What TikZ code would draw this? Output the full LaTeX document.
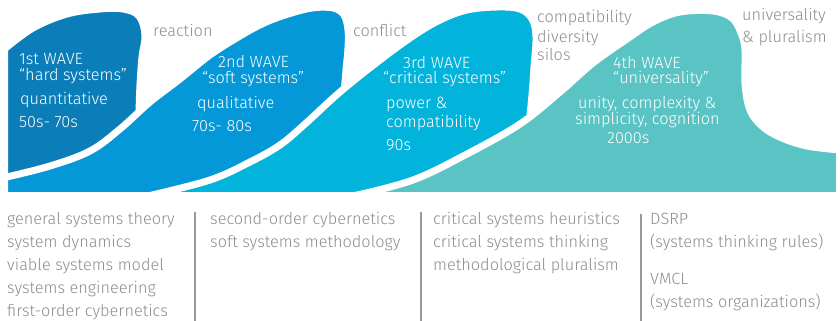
\documentclass[tikz,border=0pt]{standalone}
\usepackage{fontspec}
\IfFontExistsTF{Fira Sans Light}{\setmainfont{Fira Sans Light}}{\setmainfont{Fira Sans}}
\definecolor{waveA}{HTML}{0B7DB8}
\definecolor{waveB}{HTML}{0498D8}
\definecolor{waveC}{HTML}{02B4DB}
\definecolor{waveD}{HTML}{5AC4C4}
\definecolor{notegray}{HTML}{8C8C8C}
\definecolor{bargray}{HTML}{9A9A9A}
\begin{document}
\begin{tikzpicture}[x=1pt, y=-1pt]
        \tikzstyle{wave} = [draw=white, line width=7pt, line join=round]
        \tikzstyle{lbl} = [inner sep=0pt, anchor=base west, text=white, font=\fontsize{16.3}{19}\selectfont]
        \tikzstyle{note} = [lbl, text=notegray]
        \tikzstyle{bar} = [draw=bargray, line width=2.5pt]

        \useasboundingbox (0, 0) rectangle (840, 321);

        \filldraw[wave, fill=waveA] (4.5, 195.5) -- plot[smooth, tension=0.6] coordinates {(4.5, 49) (33, 28) (67, 14) (100, 9) (123, 9) (139, 16) (145, 35) (142, 57) (140, 85) (139, 112)} -- (139, 195.5) -- cycle;
        \filldraw[wave, fill=waveB] (4.5, 195.5) -- plot[smooth, tension=0.6] coordinates {(4.5, 177.5) (50, 166) (90, 151) (120, 129) (150, 102) (180, 79) (210, 55) (240, 36) (262, 24) (285, 15) (312, 8) (333, 8) (344, 15) (348, 30) (348, 48) (346, 70) (344, 95) (343, 120)} -- (343, 195.5) -- cycle;
        \filldraw[wave, fill=waveC] (150, 195.5) -- plot[smooth, tension=0.6] coordinates {(150, 195.5) (210, 180) (250, 162) (280, 145) (305, 124) (340, 92) (380, 60) (413, 36) (440, 20) (467, 10) (497, 7) (520, 9) (532, 19) (536, 37) (534, 67) (532, 95) (529, 125)} -- (529, 195.5) -- cycle;
        \filldraw[wave, fill=waveD] (355, 195.5) -- plot[smooth, tension=0.6] coordinates {(355, 195.5) (413, 180) (467, 154) (520, 124) (560, 92) (593, 63) (627, 39) (653, 22) (680, 12) (713, 11) (732, 18) (741, 33) (745, 50) (745, 83) (750, 110) (763, 127) (782, 138) (807, 146) (839.5, 150)} -- (839.5, 195.5) -- cycle;

        \node[lbl] (first title) at (19, 65) {1st WAVE};
        \node[lbl] (first name) at (19, 80) {“hard systems”};
        \node[lbl] (first kind) at (20, 104) {quantitative};
        \node[lbl] (first time) at (19, 127) {50s- 70s};

        \node[lbl] (second title) at (218, 67) {2nd WAVE};
        \node[lbl] (second name) at (202, 83) {“soft systems”};
        \node[lbl] (second kind) at (197, 108) {qualitative};
        \node[lbl] (second time) at (192, 131) {70s- 80s};

        \node[lbl] (third title) at (403, 68) {3rd WAVE};
        \node[lbl] (third name) at (383, 83) {“critical systems”};
        \node[lbl] (third kind) at (386, 108) {power \&};
        \node[lbl] (third kind2) at (386, 127) {compatibility};
        \node[lbl] (third time) at (386, 150) {90s};

        \node[lbl] (fourth title) at (613, 68) {4th WAVE};
        \node[lbl] (fourth name) at (613, 83) {“universality”};
        \node[lbl] (fourth kind) at (578, 108) {unity, complexity \&};
        \node[lbl] (fourth kind2) at (575, 124) {simplicity, cognition};
        \node[lbl] (fourth time) at (607, 143) {2000s};

        \node[note] (reaction) at (153, 37) {reaction};
        \node[note] (conflict) at (353, 37) {conflict};
        \node[note] (compatibility) at (537, 23) {compatibility};
        \node[note] (diversity) at (537, 42) {diversity};
        \node[note] (silos) at (537, 60) {silos};
        \node[note] (universality) at (742, 21) {universality};
        \node[note] (pluralism) at (742, 43) {\& pluralism};

        \node[note] (gst) at (7, 224) {general systems theory};
        \node[note] (sd) at (7, 247) {system dynamics};
        \node[note] (vsm) at (7, 270) {viable systems model};
        \node[note] (se) at (7, 293) {systems engineering};
        \node[note] (foc) at (7, 316) {first-order cybernetics};

        \node[note] (soc) at (210, 224) {second-order cybernetics};
        \node[note] (ssm) at (210, 247) {soft systems methodology};

        \node[note] (csh) at (433, 224) {critical systems heuristics};
        \node[note] (cst) at (433, 247) {critical systems thinking};
        \node[note] (mp) at (433, 270) {methodological pluralism};

        \node[note] (dsrp) at (650, 224) {DSRP};
        \node[note] (dsrp rules) at (650, 247) {(systems thinking rules)};
        \node[note] (vmcl) at (650, 284) {VMCL};
        \node[note] (vmcl orgs) at (650, 307) {(systems organizations)};

        \path[bar] (195, 212) -- (195, 321);
        \path[bar] (421, 212) -- (421, 321);
        \path[bar] (641, 214) -- (641, 321);
\end{tikzpicture}
\end{document}
